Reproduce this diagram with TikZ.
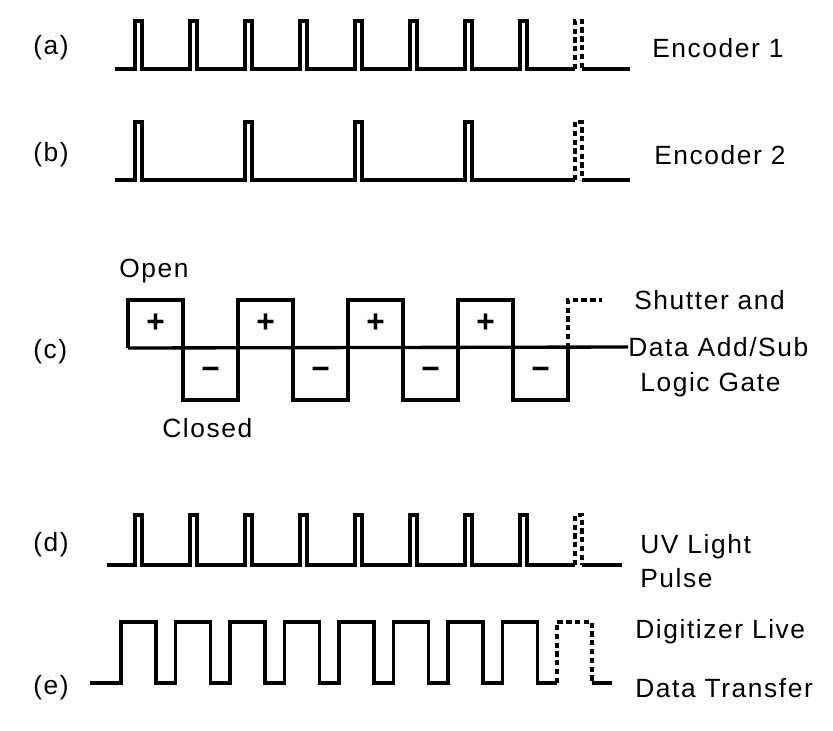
\documentclass[tikz,border=0pt]{standalone}
\usepackage{fontspec}
\setmainfont{Liberation Sans}[LetterSpace=6]
\usetikzlibrary{positioning}

\begin{document}
\begin{tikzpicture}[x=0.02cm,y=-0.02cm,
  w/.style={line width=1.9pt,line join=miter},
  d/.style={w,dash pattern=on 3pt off 2pt},
  t/.style={font=\fontsize{15}{17}\selectfont,inner sep=0pt,anchor=west},
  sg/.style={font=\fontsize{18}{20}\selectfont\bfseries}]
\useasboundingbox (0,0) rectangle (833,731);

% (a) encoder 1
\node[t] (la) at (33,48) {(a)};
\node[t] (enc1) at (652,48) {Encoder 1};
\draw[w] (115,69) foreach \k in {0,...,7} {-- ({135+55*\k},69) -- ++(0,-48) -- ++(7,0) -- ++(0,48)} -- (575,69);
\draw[d] (575,69) -- ++(0,-48) -- ++(7,0) -- ++(0,48);
\draw[w] (582,69) -- (630,69);

% (b) encoder 2
\node[t] (lb) at (33,155) {(b)};
\node[t] (enc2) at (654,155) {Encoder 2};
\draw[w] (115,180) foreach \k in {0,2,4,6} {-- ({135+55*\k},180) -- ++(0,-58) -- ++(7,0) -- ++(0,58)} -- (575,180);
\draw[d] (575,180) -- ++(0,-58) -- ++(7,0) -- ++(0,58);
\draw[w] (582,180) -- (630,180);

% (c) shutter gate
\node[t] (lc) at (33,352) {(c)};
\node[t] (open) at (119,271) {Open};
\node[t] (clsd) at (162,428) {Closed};
\node[t] (shut) at (634,300) {Shutter and};
\node[t] (dat) at (628,347) {Data Add/Sub};
\node[t] (lgc) at (640,385) {Logic Gate};
\draw[w] (128,348) foreach \k in {0,...,3} {-- ({128+110*\k},300) -- ++(55,0) -- ++(0,100) -- ++(55,0) -- ++(0,-52)};
\draw[w] (128,348) -- (dat.west);
\draw[d] (568,348) -- (568,300) -- (602,300);
\foreach \k in {0,...,3} {
  \node[sg] (p\k) at ({155.5+110*\k},323) {+};
  \node[sg] (m\k) at ({210.5+110*\k},373) {−};
}

% (d) uv light
\node[t] (ld) at (33,545) {(d)};
\node[t] (uv) at (640,547) {UV Light};
\node[t] (pul) at (640,578) {Pulse};
\draw[w] (107,565) foreach \k in {0,...,7} {-- ({135+55*\k},565) -- ++(0,-50) -- ++(7,0) -- ++(0,50)} -- (575,565);
\draw[d] (575,565) -- ++(0,-50) -- ++(7,0) -- ++(0,50);
\draw[w] (582,565) -- (622,565);

% (e) digitizer
\node[t] (le) at (33,688) {(e)};
\node[t] (dig) at (635,632) {Digitizer Live};
\node[t] (dtr) at (635,688) {Data Transfer};
\draw[w] (90,683) foreach \k in {0,...,7} {-- ({121+54.5*\k},683) -- ++(0,-61) -- ++(35,0) -- ++(0,61)} -- (557,683);
\draw[d] (557,683) -- ++(0,-61) -- ++(35,0) -- ++(0,61);
\draw[w] (592,683) -- (612,683);
\end{tikzpicture}
\end{document}
